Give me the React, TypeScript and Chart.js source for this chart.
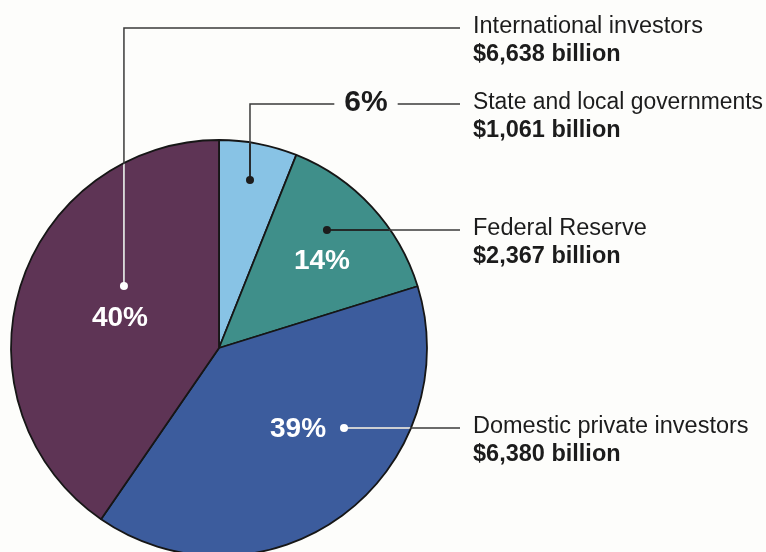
import React, { useEffect, useRef } from "react";
import { Chart, registerables } from "chart.js";

Chart.register(...registerables);

// ---- Data ----
const categories = [
  "State and local governments",
  "Federal Reserve",
  "Domestic private investors",
  "International investors",
];
const percentShares = [6, 14, 39, 40];
const holdingsBillions = [1061, 2367, 6380, 6638];
const percentLabels = ["6%", "14%", "39%", "40%"];

// ---- Styles ----
const sliceColors = ["#88c3e5", "#3f8f8a", "#3c5c9d", "#5e3455"];
const BG = "#fdfdfb";
const TEXT = "#1c1c1c";
const LINE = "#3a3a3a";
const FONT = "'Liberation Sans', Arial, Helvetica, sans-serif";
const PIE_RADIUS = 208;

// leader-line layout per slice (dot offsets in radius units relative to the pie centre)
const leaders = [
  { dot: [0.149, -0.808], elbowY: 104, inner: "#1c1c1c", inlinePctX: 366, pctSize: 30 },
  { dot: [0.519, -0.567], elbowY: null, inner: "#1c1c1c", pct: [0.495, -0.418], pctSize: 28 },
  { dot: [0.601, 0.385], elbowY: null, inner: "#ffffff", pct: [0.38, 0.389], pctSize: 28 },
  { dot: [-0.457, -0.298], elbowY: 28, inner: "#ffffff", pct: [-0.476, -0.144], pctSize: 28 },
];

const fmtBillions = (v: number) => "$" + v.toLocaleString("en-US") + " billion";

const bgPlugin = {
  id: "bg",
  beforeDraw(chart: any) {
    const { ctx, width, height } = chart;
    ctx.save();
    ctx.fillStyle = BG;
    ctx.fillRect(0, 0, width, height);
    ctx.restore();
  },
};

const leaderPlugin = {
  id: "leaders",
  afterDatasetsDraw(chart: any) {
    const ctx: CanvasRenderingContext2D = chart.ctx;
    const arcs = chart.getDatasetMeta(0).data;
    const cx = arcs[0].x;
    const cy = arcs[0].y;
    const r = arcs[0].outerRadius;
    const lineEndX = cx + r + 33;
    const labelX = cx + r + 46;
    const maxTextW = chart.width - labelX - 3;

    leaders.forEach((cfg, i) => {
      const dx = cx + cfg.dot[0] * r;
      const dy = cy + cfg.dot[1] * r;
      const lineY = cfg.elbowY == null ? dy : cfg.elbowY;

      const segs: number[][][] = [];
      if (cfg.inlinePctX != null) {
        ctx.font = `bold ${cfg.pctSize}px ${FONT}`;
        const w = ctx.measureText(percentLabels[i]).width;
        segs.push([[dx, dy], [dx, lineY], [cfg.inlinePctX - w / 2 - 10, lineY]]);
        segs.push([[cfg.inlinePctX + w / 2 + 10, lineY], [lineEndX, lineY]]);
      } else if (cfg.elbowY != null) {
        segs.push([[dx, dy], [dx, lineY], [lineEndX, lineY]]);
      } else {
        segs.push([[dx, dy], [lineEndX, lineY]]);
      }

      const stroke = (color: string) => {
        ctx.strokeStyle = color;
        ctx.lineWidth = 1.5;
        segs.forEach((s) => {
          ctx.beginPath();
          s.forEach((p, k) => (k === 0 ? ctx.moveTo(p[0], p[1]) : ctx.lineTo(p[0], p[1])));
          ctx.stroke();
        });
      };

      ctx.save();
      stroke(LINE);
      ctx.beginPath();
      ctx.arc(cx, cy, r - 1, 0, Math.PI * 2);
      ctx.clip();
      stroke(cfg.inner);
      ctx.restore();

      ctx.save();
      ctx.fillStyle = cfg.inner;
      ctx.beginPath();
      ctx.arc(dx, dy, 4, 0, Math.PI * 2);
      ctx.fill();
      ctx.restore();

      ctx.save();
      ctx.font = `bold ${cfg.pctSize}px ${FONT}`;
      ctx.textAlign = "center";
      ctx.textBaseline = "middle";
      if (cfg.inlinePctX != null) {
        ctx.fillStyle = TEXT;
        ctx.fillText(percentLabels[i], cfg.inlinePctX, lineY - 1);
      } else if (cfg.pct) {
        ctx.fillStyle = "#ffffff";
        ctx.fillText(percentLabels[i], cx + cfg.pct[0] * r, cy + cfg.pct[1] * r);
      }
      ctx.restore();

      ctx.save();
      ctx.fillStyle = TEXT;
      ctx.textAlign = "left";
      ctx.textBaseline = "alphabetic";
      ctx.font = `23.5px ${FONT}`;
      ctx.fillText(categories[i], labelX, lineY + 5, maxTextW);
      ctx.font = `bold 23.5px ${FONT}`;
      ctx.fillText(fmtBillions(holdingsBillions[i]), labelX, lineY + 33, maxTextW);
      ctx.restore();
    });
  },
};

export default function App() {
  const ref = useRef<HTMLCanvasElement>(null);
  useEffect(() => {
    if (!ref.current) return;
    const chart = new Chart(ref.current, {
      type: "pie",
      data: {
        labels: categories,
        datasets: [
          {
            data: percentShares,
            backgroundColor: sliceColors,
            borderColor: "#161616",
            borderWidth: 1.8,
          },
        ],
      },
      options: {
        responsive: false,
        animation: false,
        devicePixelRatio: 1,
        radius: PIE_RADIUS,
        layout: { padding: { left: 11, top: 144, right: 339, bottom: 0 } },
        plugins: {
          legend: { display: false },
          tooltip: { enabled: false },
        },
      },
      plugins: [bgPlugin, leaderPlugin],
    });
    return () => chart.destroy();
  }, []);
  return (
    <canvas
      ref={ref}
      width={766}
      height={552}
      style={{ position: "fixed", left: 0, top: 0, width: 766, height: 552 }}
    />
  );
}
